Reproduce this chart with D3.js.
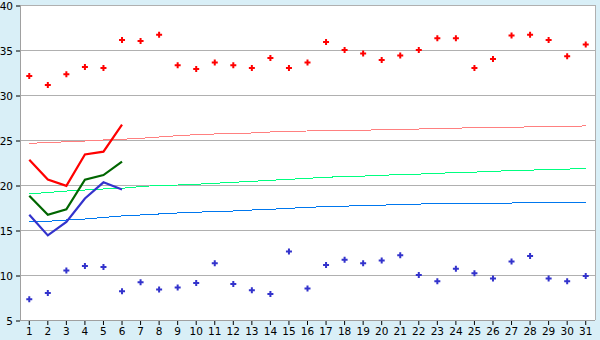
<!DOCTYPE html>
<html>
<head>
<meta charset="utf-8">
<script src="https://cdn.jsdelivr.net/npm/d3@7"></script>
<style>
  body { margin: 0; background: #d9eff7; }
  svg { display: block; }
</style>
</head>
<body>
<svg width="600" height="340"></svg>
<script>
// categorie 1..31
const days = d3.range(1, 32);
const yTicks = [5, 10, 15, 20, 25, 30, 35, 40];

// punkter (max og min)
const maxPts = [32.1, 31.1, 32.3, 33.1, 33.0, 36.1, 36.0, 36.7, 33.3, 32.9, 33.6, 33.3, 33.0, 34.1, 33.0, 33.6,
  35.9, 35.0, 34.6, 33.9, 34.4, 35.0, 36.3, 36.3, 33.0, 34.0, 36.6, 36.7, 36.1, 34.3, 35.6];
const minPts = [7.3, 8.0, 10.5, 11.0, 10.9, 8.2, 9.2, 8.4, 8.6, 9.1, 11.3, 9.0, 8.3, 7.9, 12.6, 8.5,
  11.1, 11.7, 11.3, 11.6, 12.2, 10.0, 9.3, 10.7, 10.2, 9.6, 11.5, 12.1, 9.6, 9.3, 9.9];

// de tre korte linjer (kun dag 1-6)
const redLine = [22.8, 20.6, 19.9, 23.4, 23.7, 26.7];
const greenLine = [18.8, 16.7, 17.3, 20.6, 21.1, 22.6];
const blueLine = [16.7, 14.4, 15.9, 18.5, 20.3, 19.5];

// lyse trendlinjer
const redTrend = [24.63, 24.72, 24.8, 24.89, 25.0, 25.08, 25.19, 25.33, 25.48, 25.59, 25.67, 25.7, 25.78, 25.89, 25.97, 26.0,
  26.02, 26.04, 26.08, 26.15, 26.19, 26.22, 26.28, 26.31, 26.38, 26.41, 26.43, 26.45, 26.5, 26.53, 26.56];
const greenTrend = [19.0, 19.17, 19.33, 19.44, 19.56, 19.63, 19.83, 19.95, 20.0, 20.08, 20.19, 20.3, 20.41, 20.52, 20.63, 20.74,
  20.86, 20.94, 20.99, 21.08, 21.16, 21.21, 21.3, 21.38, 21.43, 21.52, 21.6, 21.65, 21.72, 21.76, 21.86];
const blueTrend = [15.92, 15.97, 16.11, 16.22, 16.39, 16.56, 16.67, 16.78, 16.89, 16.97, 17.06, 17.11, 17.22, 17.3, 17.41, 17.52,
  17.6, 17.65, 17.72, 17.76, 17.84, 17.88, 17.95, 17.97, 17.98, 17.99, 18.0, 18.01, 18.06, 18.08, 18.09];

const svg = d3.select("svg");
const margin = { top: 5, right: 5, bottom: 20, left: 20 };
const w = 600 - margin.left - margin.right;
const h = 340 - margin.top - margin.bottom;

const g = svg.append("g").attr("transform", `translate(${margin.left},${margin.top})`);

const x = d3.scaleBand().domain(days).range([0, w]);
const y = d3.scaleLinear().domain([5, 40]).range([h, 0]);
const cx = d => x(d) + x.bandwidth() / 2;

// hvid plotflade
g.append("rect").attr("width", w).attr("height", h).attr("fill", "#fff");

// gitterlinjer
g.append("g")
  .selectAll("line")
  .data(yTicks)
  .join("line")
  .attr("x1", 0).attr("x2", w)
  .attr("y1", d => Math.round(y(d)) + 0.5).attr("y2", d => Math.round(y(d)) + 0.5)
  .attr("stroke", "#b0b0b0");

// ramme højre + venstre
g.append("line").attr("x1", w + 0.5).attr("x2", w + 0.5).attr("y1", 0).attr("y2", h).attr("stroke", "#b0b0b0");
g.append("line").attr("x1", 0.5).attr("x2", 0.5).attr("y1", 0).attr("y2", h).attr("stroke", "#a0a0a0");

// y-akse
const yAxis = g.append("g")
  .call(d3.axisLeft(y).tickValues(yTicks).tickSize(4).tickPadding(3));
yAxis.select(".domain").remove();
yAxis.selectAll(".tick line").attr("stroke", "#000").attr("transform", "translate(0,0.5)");
yAxis.selectAll("text").attr("font-family", "DejaVu Sans, Verdana, sans-serif").attr("font-size", 10.5).attr("fill", "#000")
  .attr("dy", "0.42em");

// x-akse
const xAxis = g.append("g")
  .attr("transform", `translate(0,${h})`)
  .call(d3.axisBottom(x).tickSize(5).tickPadding(3));
xAxis.select(".domain").remove();
xAxis.selectAll(".tick line").attr("stroke", "#000");
xAxis.selectAll("text").attr("font-family", "DejaVu Sans, Verdana, sans-serif").attr("font-size", 10.5).attr("fill", "#000");
g.append("line").attr("x1", 0).attr("x2", w).attr("y1", h + 0.5).attr("y2", h + 0.5).attr("stroke", "#a0a0a0");

const line = d3.line().x((d, i) => cx(days[i])).y(d => y(d));

// trendlinjer (trappe-look som originalen)
[[redTrend, "#ff8080"], [greenTrend, "#00ff80"], [blueTrend, "#0077ee"]].forEach(([data, c]) => {
  g.append("path").datum(data).attr("fill", "none").attr("stroke", c).attr("stroke-width", 1)
    .attr("shape-rendering", "crispEdges").attr("d", line);
});

// korte linjer
[[redLine, "#ff0000"], [greenLine, "#006600"], [blueLine, "#3333cc"]].forEach(([data, c]) => {
  g.append("path").datum(data).attr("fill", "none").attr("stroke", c).attr("stroke-width", 2.2).attr("d", line);
});

// punkter
const cross = d3.symbol().type(d3.symbolCross).size(20);
[[maxPts, "#ff0000"], [minPts, "#3333cc"]].forEach(([data, c]) => {
  g.append("g")
    .selectAll("path")
    .data(data)
    .join("path")
    .attr("d", cross)
    .attr("transform", (d, i) => `translate(${cx(days[i])},${y(d)})`)
    .attr("fill", c);
});
</script>
</body>
</html>
